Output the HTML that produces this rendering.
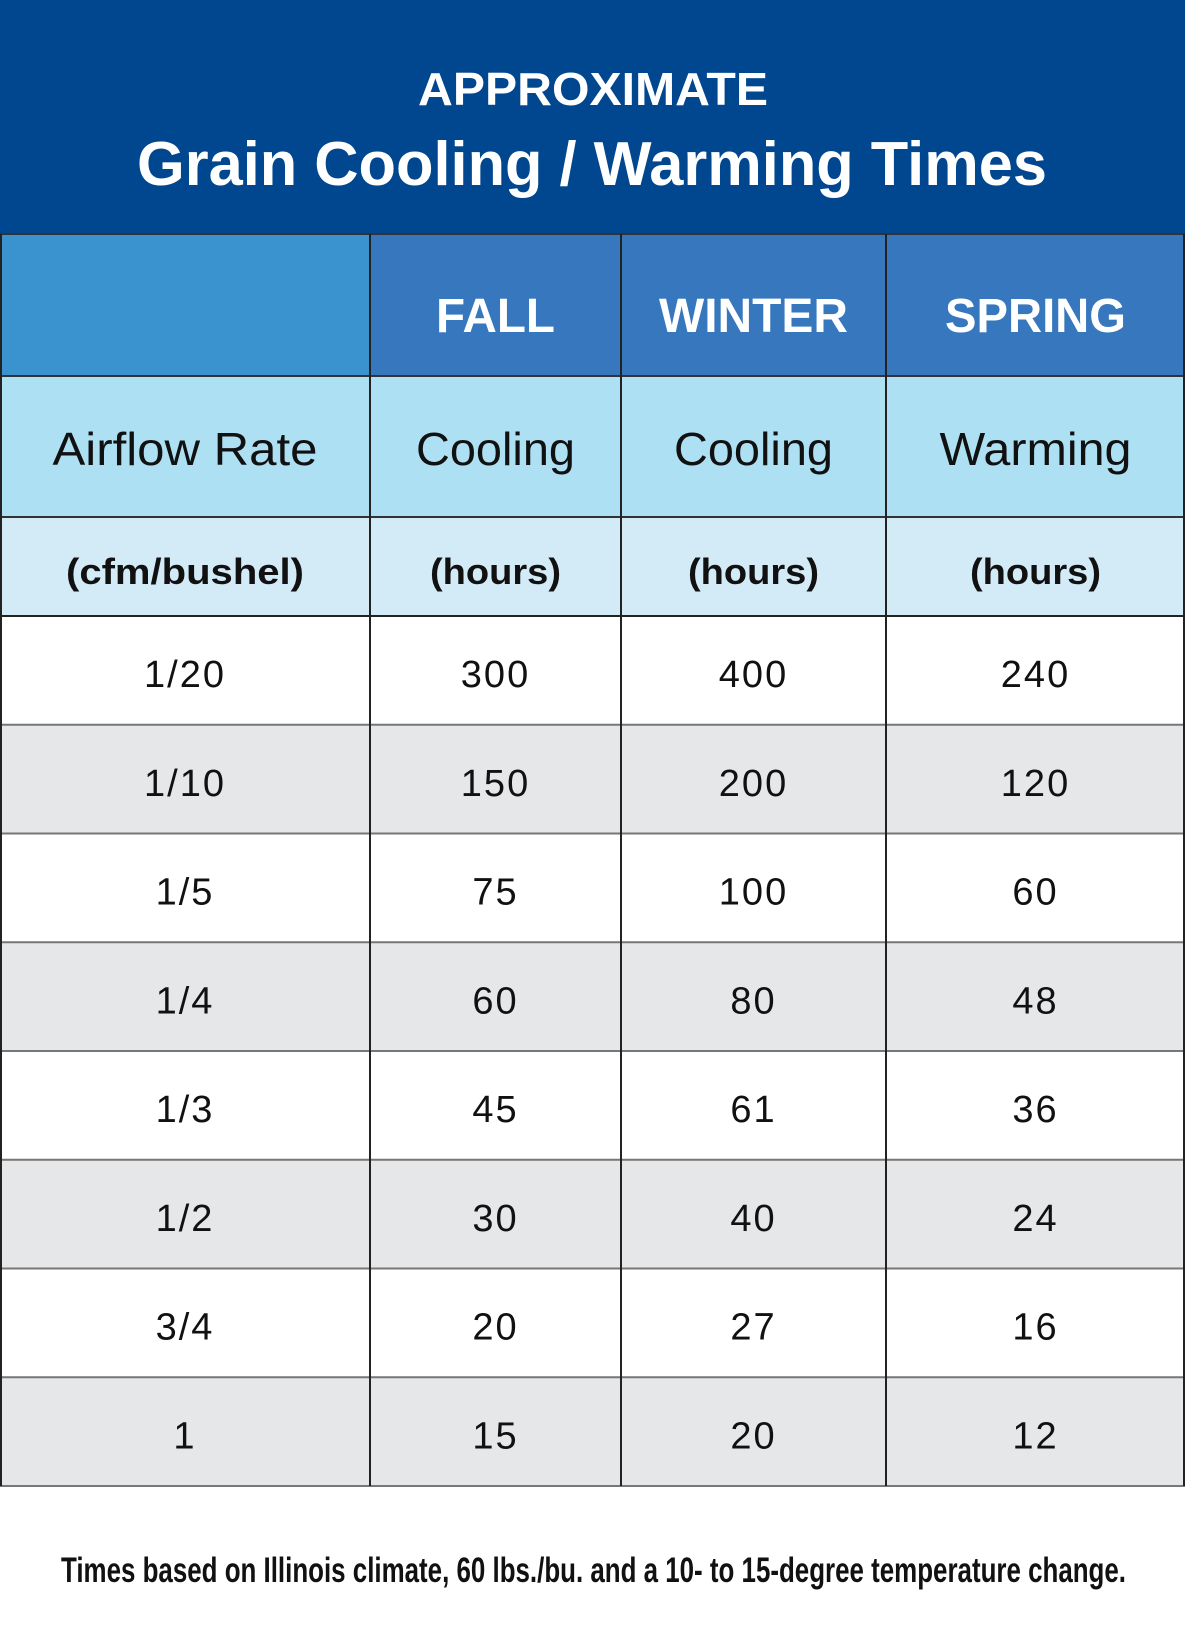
<!DOCTYPE html>
<html>
<head>
<meta charset="utf-8">
<style>
  html,body{margin:0;padding:0;background:#fff;}
  svg{display:block;}
  text{font-family:"Liberation Sans Narrow","Liberation Sans",sans-serif;}
</style>
</head>
<body>
<svg id="chart" width="1185" height="1650" viewBox="0 0 1185 1650" xmlns="http://www.w3.org/2000/svg">
  <rect x="0" y="0" width="1185" height="234" fill="#00478f"/>
  <text x="593" y="105" text-anchor="middle" fill="#fff" font-size="46" font-weight="bold" textLength="350" lengthAdjust="spacingAndGlyphs">APPROXIMATE</text>
  <text x="592" y="185" text-anchor="middle" fill="#fff" font-size="62" font-weight="bold" textLength="910" lengthAdjust="spacingAndGlyphs">Grain Cooling / Warming Times</text>
  <g id="table"></g>
  <text x="61" y="1582" fill="#111" font-size="35" font-weight="bold" textLength="1065" lengthAdjust="spacingAndGlyphs">Times based on Illinois climate, 60 lbs./bu. and a 10- to 15-degree temperature change.</text>
</svg>
<script>
const seasons = ["", "FALL", "WINTER", "SPRING"];
const modes = ["Airflow Rate", "Cooling", "Cooling", "Warming"];
const units = ["(cfm/bushel)", "(hours)", "(hours)", "(hours)"];
const airflowRates = ["1/20", "1/10", "1/5", "1/4", "1/3", "1/2", "3/4", "1"];
const fallCooling = [300, 150, 75, 60, 45, 30, 20, 15];
const winterCooling = [400, 200, 100, 80, 61, 40, 27, 20];
const springWarming = [240, 120, 60, 48, 36, 24, 16, 12];

const NS = "http://www.w3.org/2000/svg";
const g = document.getElementById("table");
const colX = [0, 370, 621, 886, 1185];
const seasonW = [0, 119, 189, 181];
const modeW = [265, 159, 159, 192];
const unitW = [238, 131, 131, 131];
function mk(tag, attrs, txt){
  const e = document.createElementNS(NS, tag);
  for (const k in attrs) e.setAttribute(k, attrs[k]);
  if (txt !== undefined) e.textContent = txt;
  g.appendChild(e);
  return e;
}
function cx(c){ return (colX[c] + colX[c+1]) / 2; }

// season header row
for (let c = 0; c < 4; c++) {
  const r = mk("rect", {x: colX[c], y: 234, width: colX[c+1]-colX[c], height: 142, fill: c === 0 ? "#3a93cf" : "#3677bd"});
  
  
  if (seasons[c]) {
    const t = mk("text", {x: cx(c), y: 332, "text-anchor": "middle", fill: "#fff", "font-size": 48, "font-weight": "bold", textLength: seasonW[c], lengthAdjust: "spacingAndGlyphs"}, seasons[c]);
    
    
  }
}
// mode row
for (let c = 0; c < 4; c++) {
  const r = mk("rect", {x: colX[c], y: 376, width: colX[c+1]-colX[c], height: 141, fill: "#aee0f4"});
  
  
  const t = mk("text", {x: cx(c), y: 465, "text-anchor": "middle", fill: "#111", "font-size": 46, textLength: modeW[c], lengthAdjust: "spacingAndGlyphs"}, modes[c]);
  
  
}
// units row
for (let c = 0; c < 4; c++) {
  const r = mk("rect", {x: colX[c], y: 517, width: colX[c+1]-colX[c], height: 99, fill: "#d3ebf7"});
  
  
  const t = mk("text", {x: cx(c), y: 584, "text-anchor": "middle", fill: "#111", "font-size": 36, "font-weight": "bold", textLength: unitW[c], lengthAdjust: "spacingAndGlyphs"}, units[c]);
  
  
}
// data rows
const rowTop = 616, rowH = 108.75;
for (let i = 0; i < airflowRates.length; i++) {
  const y = rowTop + i * rowH;
  const vals = [airflowRates[i], fallCooling[i], winterCooling[i], springWarming[i]];
  const bg = mk("rect", {x: 0, y: y, width: 1185, height: rowH, fill: i % 2 ? "#e6e7e9" : "#ffffff"});
  
  
  for (let c = 0; c < 4; c++) {
    const t = mk("text", {x: cx(c), y: y + 71, "text-anchor": "middle", fill: "#111", "font-size": 38, "letter-spacing": 2}, String(vals[c]));
    
    
  }
  const ln = mk("line", {x1: 0, x2: 1185, y1: y, y2: y, stroke: i === 0 ? "#222" : "#777", "stroke-width": 2});
  
  
}
const bottom = rowTop + airflowRates.length * rowH;
const bl = mk("line", {x1: 0, x2: 1185, y1: bottom, y2: bottom, stroke: "#777", "stroke-width": 2});


// header horizontal lines
[234, 376, 517].forEach(function(y){
  const l = mk("line", {x1: 0, x2: 1185, y1: y, y2: y, stroke: "#333", "stroke-width": 2});
  
  
});
// vertical lines
for (let c = 0; c < colX.length; c++) {
  const x = c === 0 ? 1 : (c === colX.length - 1 ? 1184 : colX[c]);
  const v = mk("line", {x1: x, x2: x, y1: 234, y2: bottom, stroke: "#222", "stroke-width": 2});
  
  
}
</script>
</body>
</html>
